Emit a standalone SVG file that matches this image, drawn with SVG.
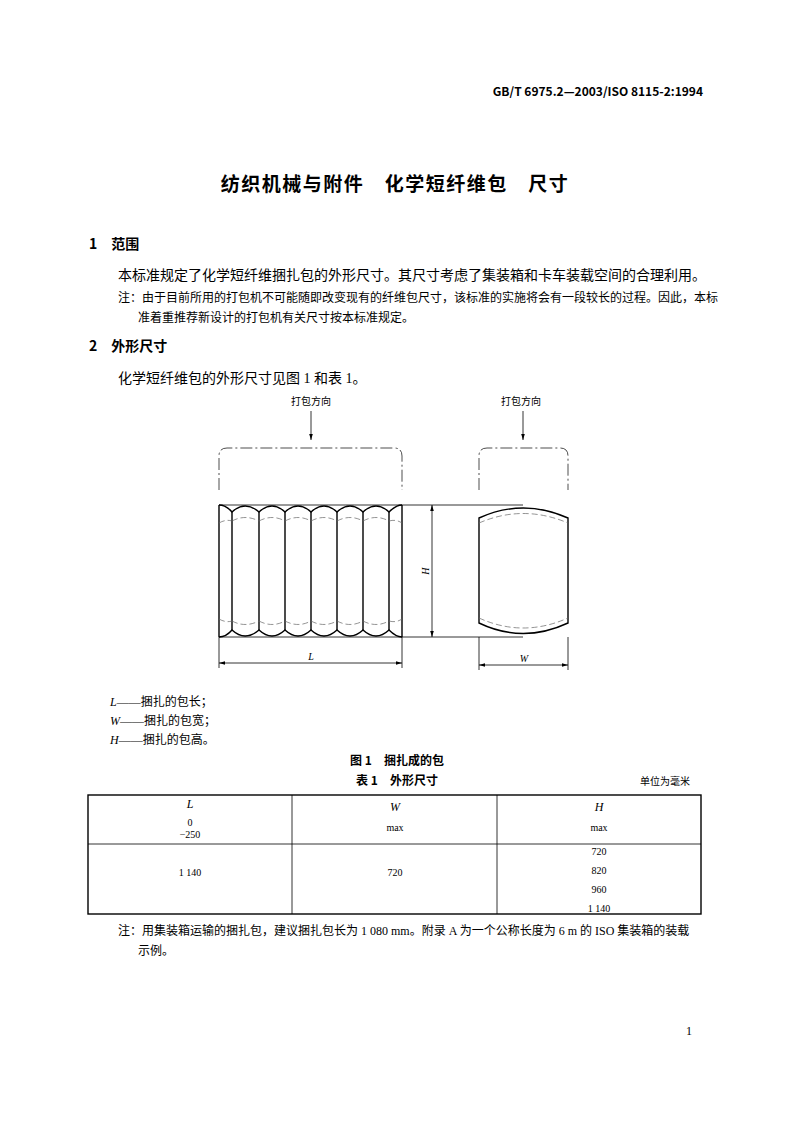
<svg xmlns="http://www.w3.org/2000/svg" width="794" height="1123" viewBox="0 0 794 1123">
<style>
text{font-family:"Liberation Serif","Noto Sans CJK SC",serif;fill:#000}
.b{font-family:"Noto Sans CJK SC",sans-serif;font-weight:bold}
.s{font-size:12px}.m{font-size:14px}.xs{font-size:10px}
.t{stroke:#000;stroke-width:1.4;fill:none}
.n{stroke:#000;stroke-width:0.8;fill:none}
.d{stroke:#666;stroke-width:0.7;fill:none;stroke-dasharray:6 3}
.dd{stroke:#000;stroke-width:0.7;fill:none;stroke-dasharray:12 3 2 3}
</style>
<defs>
<marker id="a" viewBox="0 0 10 10" refX="10" refY="5" markerWidth="8" markerHeight="8" orient="auto-start-reverse"><path d="M0,2L10,5L0,8z" fill="#000"/></marker>
</defs>
<rect width="794" height="1123" fill="#fff"/>
<text x="703" y="96" text-anchor="end" class="s b">GB/T 6975.2—2003/ISO 8115-2:1994</text>
<text x="395" y="191" text-anchor="middle" class="b" font-size="19" letter-spacing="1.5">纺织机械与附件　化学短纤维包　尺寸</text>
<text x="89" y="249" class="m b">1　范围</text>
<text x="118" y="280" class="m">本标准规定了化学短纤维捆扎包的外形尺寸。其尺寸考虑了集装箱和卡车装载空间的合理利用。</text>
<text x="118" y="302" class="s">注：由于目前所用的打包机不可能随即改变现有的纤维包尺寸，该标准的实施将会有一段较长的过程。因此，本标</text>
<text x="138" y="322" class="s">准着重推荐新设计的打包机有关尺寸按本标准规定。</text>
<text x="89" y="351" class="m b">2　外形尺寸</text>
<text x="118" y="383" class="m">化学短纤维包的外形尺寸见图 1 和表 1。</text>

<g id="left-bale">
<text x="311" y="405" text-anchor="middle" class="xs">打包方向</text>
<line x1="311" y1="411" x2="311" y2="440" class="n" marker-end="url(#a)"/>
<path d="M219,490V456Q219,448 227,448H394Q402,448 402,456V490" class="dd"/>
<path d="M219,505H402M219,637H402" class="n"/>
<path d="M219,505V637M402,505V637" class="t"/>
<path d="M219,505Q226,505 232,512Q245,500 259,512Q272,500 285,512Q298,500 311,512Q324,500 337,512Q350,500 363,512Q376,500 389,512Q396,505 402,505" class="t"/>
<path d="M219,637Q226,637 232,630Q245,642 259,630Q272,642 285,630Q298,642 311,630Q324,642 337,630Q350,642 363,630Q376,642 389,630Q396,637 402,637" class="t"/>
<path d="M232,512V630M259,512V630M285,512V630M311,512V630M337,512V630M363,512V630M389,512V630" class="t"/>
<path d="M232,521Q245,514 259,521M259,521Q272,514 285,521M285,521Q298,514 311,521M311,521Q324,514 337,521M337,521Q350,514 363,521M363,521Q376,514 389,521M219,523Q226,519 232,521M389,521Q396,519 402,523" class="d"/>
<path d="M232,621Q245,628 259,621M259,621Q272,628 285,621M285,621Q298,628 311,621M311,621Q324,628 337,621M337,621Q350,628 363,621M363,621Q376,628 389,621M219,619Q226,623 232,621M389,621Q396,623 402,619" class="d"/>
</g>
<g id="right-bale">
<text x="521" y="405" text-anchor="middle" class="xs">打包方向</text>
<line x1="523" y1="411" x2="523" y2="440" class="n" marker-end="url(#a)"/>
<path d="M479,490V456Q479,448 487,448H560Q568,448 568,456V490" class="dd"/>
<path d="M479,518Q523,498 568,518V623Q523,644 479,623Z" class="t"/>
<path d="M479,523Q523,504 568,523M479,618Q523,638 568,618" class="d"/>
</g>
<g id="connectors">
<path d="M402,505H523M402,637H523" class="n"/>
<line x1="432" y1="505" x2="432" y2="637" class="n" marker-start="url(#a)" marker-end="url(#a)"/>
<path d="M219,637V668M402,637V668M479,637V670M568,637V670" class="n"/>
<line x1="219" y1="663" x2="402" y2="663" class="n" marker-start="url(#a)" marker-end="url(#a)"/>
<line x1="479" y1="665" x2="568" y2="665" class="n" marker-start="url(#a)" marker-end="url(#a)"/>
</g>
<text x="429" y="571" text-anchor="middle" class="xs" font-style="italic" transform="rotate(-90 429 571)">H</text>
<text x="311" y="660" text-anchor="middle" class="xs" font-style="italic">L</text>
<text x="524" y="662" text-anchor="middle" class="xs" font-style="italic">W</text>

<text x="110" y="706" class="s"><tspan font-style="italic">L</tspan>——捆扎的包长；</text>
<text x="110" y="725" class="s"><tspan font-style="italic">W</tspan>——捆扎的包宽；</text>
<text x="110" y="744" class="s"><tspan font-style="italic">H</tspan>——捆扎的包高。</text>
<text x="397" y="765" text-anchor="middle" class="s b">图 1　捆扎成的包</text>
<text x="397" y="785" text-anchor="middle" class="s b">表 1　外形尺寸</text>
<text x="690" y="785" text-anchor="end" class="xs">单位为毫米</text>

<g id="table">
<rect x="88" y="795" width="613" height="119" fill="none" stroke="#000" stroke-width="1.4"/>
<path d="M88,844H701M292,795V914M497,795V914" class="n"/>
<text x="190" y="808" text-anchor="middle" class="s" font-style="italic">L</text>
<text x="190" y="826" text-anchor="middle" class="xs">0</text>
<text x="190" y="838" text-anchor="middle" class="xs">−250</text>
<text x="395" y="811" text-anchor="middle" class="s" font-style="italic">W</text>
<text x="395" y="831" text-anchor="middle" class="xs">max</text>
<text x="599" y="811" text-anchor="middle" class="s" font-style="italic">H</text>
<text x="599" y="831" text-anchor="middle" class="xs">max</text>
<text x="190" y="876" text-anchor="middle" class="xs">1 140</text>
<text x="395" y="876" text-anchor="middle" class="xs">720</text>
<text x="599" y="855" text-anchor="middle" class="xs">720</text>
<text x="599" y="874" text-anchor="middle" class="xs">820</text>
<text x="599" y="893" text-anchor="middle" class="xs">960</text>
<text x="599" y="912" text-anchor="middle" class="xs">1 140</text>
</g>
<text x="118" y="935" class="s">注：用集装箱运输的捆扎包，建议捆扎包长为 1 080 mm。附录 A 为一个公称长度为 6 m 的 ISO 集装箱的装载</text>
<text x="138" y="955" class="s">示例。</text>
<text x="692" y="1035" text-anchor="end" class="s">1</text>
</svg>
